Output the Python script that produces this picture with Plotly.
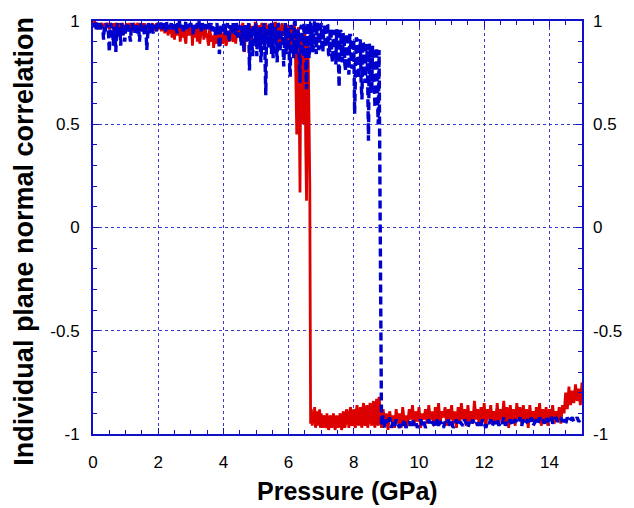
import plotly.graph_objects as go

# Pressure grid (GPa): every 0.025 GPa up to 8.8, then every 0.05 GPa up to 15
pressure = [round(i * 0.025, 3) for i in range(353)] + [round(8.85 + i * 0.05, 2) for i in range(124)]

# Red series (solid)
red_corr = [
    0.99, 0.98, 1.0, 0.98, 0.97, 0.99, 0.98, 0.97, 0.99, 0.96, 0.98, 0.99, 0.97, 0.98, 0.96, 0.99, 0.98, 0.97, 0.99, 0.98,
    0.96, 0.98, 0.99, 0.97, 0.98, 0.96, 0.99, 0.97, 0.98, 0.99, 0.96, 0.98, 0.97, 0.99, 0.96, 0.98, 0.99, 0.97, 0.98, 0.96,
    0.98, 0.99, 0.96, 0.98, 0.97, 0.99, 0.96, 0.98, 0.95, 0.97, 0.99, 0.98, 0.97, 0.96, 0.98, 0.99, 0.97, 0.98, 0.96, 0.99,
    0.97, 0.98, 0.96, 0.99, 0.95, 0.97, 0.98, 0.96, 0.99, 0.97, 0.98, 0.95, 0.97, 0.99, 0.96, 0.98, 0.97, 0.95, 0.99, 0.97,
    0.98, 0.96, 0.99, 0.97, 0.95, 0.98, 0.96, 0.99, 0.94, 0.97, 0.95, 0.98, 0.93, 0.96, 0.98, 0.94, 0.96, 0.92, 0.97, 0.95,
    0.91, 0.96, 0.97, 0.93, 0.95, 0.99, 0.96, 0.90, 0.95, 0.97, 0.92, 0.96, 0.98, 0.91, 0.89, 0.96, 0.95, 0.93, 0.97, 0.94,
    0.93, 0.97, 0.88, 0.95, 0.96, 0.92, 0.94, 0.98, 0.90, 0.95, 0.97, 0.89, 0.93, 0.96, 0.94, 0.97, 0.91, 0.95, 0.98, 0.92,
    0.94, 0.90, 0.88, 0.96, 0.94, 0.90, 0.92, 0.93, 0.87, 0.91, 0.95, 0.92, 0.89, 0.96, 0.97, 0.90, 0.88, 0.93, 0.94, 0.89,
    0.91, 0.95, 0.98, 0.88, 0.89, 0.93, 0.95, 0.90, 0.92, 0.96, 0.97, 0.91, 0.90, 0.94, 0.96, 0.89, 0.93, 0.97, 0.96, 0.92,
    0.97, 0.93, 0.91, 0.98, 0.99, 0.88, 0.85, 0.96, 0.96, 0.91, 0.93, 0.98, 0.98, 0.92, 0.90, 0.97, 0.97, 0.93, 0.94, 0.99,
    0.99, 0.95, 0.92, 0.98, 0.96, 0.93, 0.95, 0.99, 0.98, 0.92, 0.91, 0.97, 0.99, 0.95, 0.94, 0.98, 0.97, 0.92, 0.93, 0.99,
    0.98, 0.95, 0.94, 0.99, 0.99, 0.92, 0.90, 0.98, 0.97, 0.89, 0.87, 0.96, 0.99, 0.94, 0.93, 0.98, 0.96, 0.90, 0.89, 0.97,
    0.98, 0.88, 0.85, 0.96, 0.97, 0.90, 0.88, 0.99, 0.92, 0.70, 0.45, 0.95, 0.97, 0.60, 0.17, 0.92, 0.90, 0.70, 0.50, 0.96,
    0.95, 0.40, 0.13, 0.90, 0.85, 0.55, 0.20, -0.95, -0.88, -0.96, -0.90, -0.94, -0.87, -0.97, -0.95, -0.89, -0.91, -0.96, -0.88, -0.97,
    -0.90, -0.95, -0.97, -0.91, -0.92, -0.96, -0.97, -0.90, -0.93, -0.98, -0.96, -0.91, -0.92, -0.97, -0.95, -0.90, -0.93, -0.98, -0.96, -0.91,
    -0.94, -0.97, -0.95, -0.90, -0.92, -0.98, -0.96, -0.89, -0.91, -0.97, -0.95, -0.88, -0.90, -0.96, -0.97, -0.89, -0.87, -0.95, -0.96, -0.90,
    -0.88, -0.96, -0.97, -0.89, -0.86, -0.94, -0.96, -0.90, -0.87, -0.95, -0.97, -0.88, -0.85, -0.94, -0.96, -0.89, -0.86, -0.97, -0.95, -0.88,
    -0.85, -0.93, -0.96, -0.88, -0.84, -0.95, -0.97, -0.87, -0.83, -0.94, -0.96, -0.82, -0.88,
    -0.97, -0.88, -0.95, -0.90, -0.98, -0.89, -0.94, -0.91, -0.97, -0.88,
    -0.95, -0.90, -0.97, -0.87, -0.94, -0.91, -0.96, -0.88, -0.93, -0.86,
    -0.96, -0.89, -0.94, -0.87, -0.97, -0.90, -0.93, -0.88, -0.95, -0.86,
    -0.93, -0.89, -0.96, -0.87, -0.94, -0.85, -0.95, -0.89, -0.92, -0.87,
    -0.96, -0.88, -0.93, -0.86, -0.95, -0.89, -0.97, -0.87, -0.94, -0.85,
    -0.93, -0.88, -0.96, -0.86, -0.94, -0.89, -0.95, -0.84, -0.93, -0.88,
    -0.96, -0.87, -0.94, -0.85, -0.97, -0.88, -0.93, -0.86, -0.95, -0.89,
    -0.94, -0.85, -0.96, -0.88, -0.93, -0.84, -0.95, -0.87, -0.97, -0.86,
    -0.94, -0.88, -0.96, -0.85, -0.93, -0.87, -0.95, -0.86, -0.94, -0.88,
    -0.97, -0.86, -0.94, -0.89, -0.95, -0.87, -0.93, -0.85, -0.96, -0.88,
    -0.94, -0.87, -0.96, -0.88, -0.93, -0.86, -0.95, -0.89, -0.94, -0.87,
    -0.95, -0.86, -0.90, -0.80, -0.88, -0.77, -0.86, -0.79, -0.85, -0.76,
    -0.84, -0.78, -0.86, -0.75,
]

# Blue series (dashed)
blue_corr = [
    0.99, 0.97, 0.98, 1.0, 0.96, 0.99, 0.97, 0.95, 0.99, 0.96, 0.98, 0.97, 0.96, 0.91, 0.98, 0.95, 0.99, 0.97, 0.98, 0.94,
    0.85, 0.97, 0.99, 0.93, 0.96, 0.88, 0.98, 0.94, 0.85, 0.97, 0.99, 0.92, 0.95, 0.97, 0.88, 0.99, 0.96, 0.93, 0.98, 0.90,
    0.97, 0.99, 0.95, 0.98, 0.96, 0.93, 0.90, 0.97, 0.99, 0.95, 0.98, 0.94, 0.97, 0.99, 0.96, 0.93, 0.98, 0.90, 0.96, 0.99,
    0.97, 0.95, 0.98, 0.93, 0.99, 0.96, 0.86, 0.97, 0.99, 0.94, 0.98, 0.96, 0.99, 0.95, 0.94, 0.98, 0.97, 0.99, 0.95, 0.98,
    0.99, 0.96, 0.98, 0.97, 1.0, 0.96, 0.99, 0.97, 0.98, 0.95, 1.0, 0.97, 0.99, 0.96, 0.98, 0.97, 0.99, 0.95, 0.98, 0.97,
    0.99, 0.96, 0.98, 0.94, 0.99, 0.97, 1.0, 0.96, 0.98, 0.97, 0.99, 0.95, 0.98, 0.97, 1.0, 0.96, 0.99, 0.97, 0.98, 0.96,
    0.99, 0.97, 0.98, 0.93, 0.99, 0.97, 0.98, 0.96, 0.99, 0.97, 1.0, 0.96, 0.98, 0.95, 0.99, 0.97, 0.98, 0.96, 0.99, 0.97,
    0.98, 0.96, 0.99, 0.95, 0.97, 0.99, 0.95, 0.98, 0.96, 0.97, 0.93, 0.98, 0.99, 0.95, 0.97, 0.84, 0.96, 0.98, 0.97, 0.95,
    0.99, 0.96, 0.93, 0.98, 0.97, 0.99, 0.95, 0.90, 0.98, 0.96, 0.97, 0.94, 0.99, 0.95, 0.97, 0.93, 0.99, 0.96, 0.92, 0.98,
    0.96, 0.93, 0.88, 0.98, 0.97, 0.85, 0.95, 0.98, 0.90, 0.96, 0.93, 0.99, 0.76, 0.97, 0.95, 0.88, 0.83, 0.98, 0.94, 0.90,
    0.99, 0.83, 0.96, 0.88, 0.93, 0.97, 0.80, 0.95, 0.97, 0.86, 0.99, 0.84, 0.64, 0.96, 0.95, 0.89, 0.87, 0.98, 0.98, 0.84,
    0.99, 0.82, 0.86, 0.97, 0.96, 0.88, 0.80, 0.99, 0.98, 0.85, 0.88, 0.95, 0.93, 0.90, 0.78, 0.97, 0.99, 0.84, 0.85, 0.97,
    0.95, 0.80, 0.73, 0.98, 0.97, 0.86, 0.82, 0.99, 1.0, 0.84, 0.88, 0.96, 0.94, 0.81, 0.70, 0.97, 0.98, 0.85, 0.83, 0.99,
    0.96, 0.80, 0.67, 0.97, 0.99, 0.82, 0.87, 0.99, 0.99, 0.85, 0.86, 0.97, 1.0, 0.88, 0.84, 0.99, 0.98, 0.86, 0.88, 0.97,
    0.99, 0.86, 0.85, 0.97, 0.97, 0.88, 0.87, 0.99, 0.98, 0.84, 0.83, 0.96, 0.96, 0.83, 0.80, 0.95, 0.95, 0.85, 0.79, 0.96,
    0.94, 0.82, 0.68, 0.95, 0.95, 0.83, 0.80, 0.94, 0.93, 0.79, 0.76, 0.94, 0.92, 0.80, 0.74, 0.93, 0.93, 0.78, 0.77, 0.91,
    0.90, 0.55, 0.72, 0.92, 0.91, 0.75, 0.72, 0.90, 0.91, 0.70, 0.62, 0.90, 0.89, 0.74, 0.70, 0.88, 0.88, 0.72, 0.42, 0.89,
    0.87, 0.66, 0.65, 0.88, 0.86, 0.70, 0.58, 0.87, 0.87, 0.62, 0.50, 0.86, 0.33,
    -0.96, -0.91, -0.97, -0.93, -0.95, -0.92, -0.97, -0.94, -0.96, -0.93,
    -0.95, -0.97, -0.94, -0.96, -0.93, -0.97, -0.95, -0.94, -0.96, -0.93,
    -0.96, -0.94, -0.97, -0.95, -0.93, -0.96, -0.94, -0.97, -0.95, -0.93,
    -0.96, -0.94, -0.95, -0.97, -0.93, -0.96, -0.94, -0.95, -0.97, -0.94,
    -0.95, -0.93, -0.96, -0.94, -0.97, -0.95, -0.93, -0.96, -0.94, -0.95,
    -0.96, -0.93, -0.95, -0.97, -0.94, -0.96, -0.93, -0.95, -0.94, -0.96,
    -0.94, -0.96, -0.93, -0.95, -0.97, -0.94, -0.95, -0.93, -0.96, -0.94,
    -0.95, -0.93, -0.96, -0.94, -0.95, -0.92, -0.96, -0.94, -0.95, -0.93,
    -0.96, -0.94, -0.93, -0.95, -0.94, -0.92, -0.96, -0.93, -0.95, -0.94,
    -0.93, -0.95, -0.92, -0.96, -0.94, -0.93, -0.95, -0.92, -0.94, -0.93,
    -0.95, -0.92, -0.94, -0.93, -0.91, -0.95, -0.93, -0.92, -0.94, -0.93,
    -0.92, -0.94, -0.93, -0.95, -0.92, -0.94, -0.93, -0.92, -0.94, -0.93,
    -0.92, -0.94, -0.93, -0.92,
]

assert len(red_corr) == len(pressure), (len(red_corr), len(pressure))
assert len(blue_corr) == len(pressure), (len(blue_corr), len(pressure))

y_tickvals = [-1, -0.5, 0, 0.5, 1]
y_ticktext = ["-1", "-0.5", "0", "0.5", "1"]
x_tickvals = [0, 2, 4, 6, 8, 10, 12, 14]
x_ticktext = ["0", "2", "4", "6", "8", "10", "12", "14"]

AXIS_BLUE = "#1010c8"
GRID_BLUE = "#3a3ad0"
FONT = "Liberation Sans, Arial, sans-serif"

fig = go.Figure()
fig.add_trace(go.Scatter(x=pressure, y=red_corr, mode="lines",
                         line=dict(color="#dd0000", width=2.8), showlegend=False))
fig.add_trace(go.Scatter(x=pressure, y=blue_corr, mode="lines",
                         line=dict(color="#0000cc", width=3.4, dash="8px,4px"), showlegend=False))
# helper trace so that the right-hand axis is drawn
fig.add_trace(go.Scatter(x=[0], y=[0], yaxis="y2", mode="lines",
                         line=dict(width=0), hoverinfo="skip", showlegend=False))

fig.update_layout(
    width=634, height=508,
    margin=dict(l=93, r=50, t=16, b=74),
    paper_bgcolor="white", plot_bgcolor="white",
    font=dict(family=FONT, size=17, color="black"),
    xaxis=dict(
        range=[0, 15], tickvals=x_tickvals, ticktext=x_ticktext,
        showline=True, linecolor=AXIS_BLUE, linewidth=2, mirror="ticks",
        ticks="inside", ticklen=6, tickcolor=AXIS_BLUE, tickwidth=1,
        showgrid=True, gridcolor=GRID_BLUE, griddash="dot", gridwidth=1,
        zeroline=False, ticklabelstandoff=12,
        minor=dict(dtick=0.5, ticks="inside", ticklen=4, tickcolor=AXIS_BLUE, showgrid=False),
    ),
    yaxis=dict(
        range=[-1, 1], tickvals=y_tickvals, ticktext=y_ticktext,
        showline=True, linecolor=AXIS_BLUE, linewidth=2, mirror="ticks",
        ticks="inside", ticklen=6, tickcolor=AXIS_BLUE, tickwidth=1,
        showgrid=True, gridcolor=GRID_BLUE, griddash="dot", gridwidth=1,
        zeroline=False, ticklabelstandoff=8,
        minor=dict(dtick=0.1, ticks="inside", ticklen=4, tickcolor=AXIS_BLUE, showgrid=False),
    ),
    yaxis2=dict(
        range=[-1, 1], tickvals=y_tickvals, ticktext=y_ticktext,
        overlaying="y", side="right", anchor="x",
        showline=False, ticks="", showgrid=False, zeroline=False,
        ticklabelstandoff=10,
    ),
    annotations=[
        dict(text="<b>Pressure (GPa)</b>", xref="paper", yref="paper",
             x=0.521, y=-0.139, xanchor="center", yanchor="middle",
             showarrow=False, font=dict(family=FONT, size=25, color="black")),
        dict(text="<b>Individual plane normal correlation</b>", xref="paper", yref="paper",
             x=-0.1405, y=0.4665, xanchor="center", yanchor="middle", textangle=-90,
             showarrow=False, font=dict(family=FONT, size=27, color="black")),
    ],
)

fig.write_html("out.html")
